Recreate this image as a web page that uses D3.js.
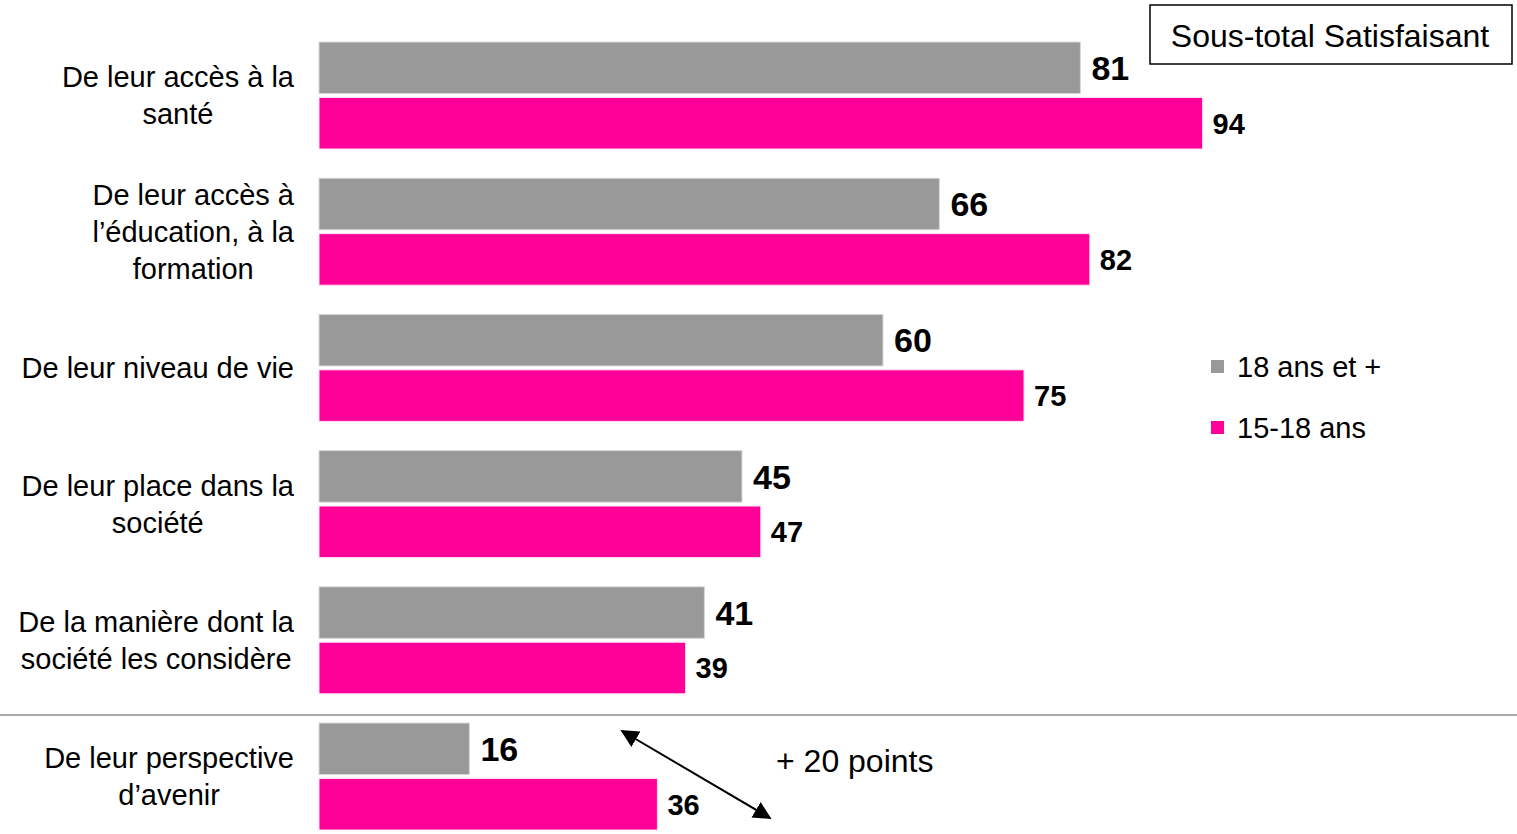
<!DOCTYPE html>
<html><head><meta charset="utf-8">
<script src="https://cdn.jsdelivr.net/npm/d3@7"></script>
<style>body{margin:0;background:#fff;} svg{display:block;font-family:"Liberation Sans",Arial,sans-serif;}</style>
</head><body>
<svg id="c" width="1517" height="834"></svg>
<script>
const categories = [
  ["De leur accès à la","santé"],
  ["De leur accès à","l’éducation, à la","formation"],
  ["De leur niveau de vie"],
  ["De leur place dans la","société"],
  ["De la manière dont la","société les considère"],
  ["De leur perspective","d’avenir"]
];
const adults = [81, 66, 60, 45, 41, 16];
const youth = [94, 82, 75, 47, 39, 36];
const seriesNames = ["18 ans et +", "15-18 ans"];
const colors = ["#999999", "#FF0099"];

const svg = d3.select("#c");
const x = d3.scaleLinear().domain([0, 100]).range([319, 319 + 940]);
const y = d3.scaleBand().domain(d3.range(categories.length)).range([38, 38 + 136.2*6]).paddingInner(0).paddingOuter(0);
const sub = d3.scaleBand().domain([0,1]).range([4, 111]).paddingInner(0.07);

const g = svg.append("g");
const groups = g.selectAll("g.grp").data(categories).join("g").attr("transform",(d,i)=>`translate(0,${y(i)})`);

groups.append("rect").attr("x", x(0)).attr("y", sub(0)).attr("height", sub.bandwidth())
  .attr("width",(d,i)=>x(adults[i])-x(0)).attr("fill", colors[0]).attr("stroke","#d9d9d9").attr("stroke-width",1);
groups.append("rect").attr("x", x(0)).attr("y", sub(1)).attr("height", sub.bandwidth())
  .attr("width",(d,i)=>x(youth[i])-x(0)).attr("fill", colors[1]).attr("stroke","#ffe0f0").attr("stroke-width",1);

groups.append("text").attr("x",(d,i)=>x(adults[i])+11).attr("y", sub(0)+sub.bandwidth()/2)
  .attr("dy","0.36em").attr("font-size",34).attr("font-weight","bold").text((d,i)=>adults[i]);
groups.append("text").attr("x",(d,i)=>x(youth[i])+10).attr("y", sub(1)+sub.bandwidth()/2)
  .attr("dy","0.36em").attr("font-size",29).attr("font-weight","bold").text((d,i)=>youth[i]);

// category labels
groups.each(function(lines,i){
  const gg = d3.select(this);
  const cy = sub(0) + (sub(1)+sub.bandwidth()-sub(0))/2;
  const lh = 37;
  const t = gg.append("text").attr("font-size",29).attr("text-anchor","middle").attr("fill","#000");
  lines.forEach((l,k)=>{
    t.append("tspan").attr("x",0).attr("y", cy + (k-(lines.length-1)/2)*lh).attr("dy","0.35em").text(l);
  });
  let maxW = 0;
  t.selectAll("tspan").each(function(){maxW = Math.max(maxW, this.getComputedTextLength());});
  t.selectAll("tspan").attr("x", 294 - maxW/2);
});

// separator
svg.append("line").attr("x1",0).attr("x2",1517).attr("y1",715).attr("y2",715).attr("stroke","#aaaaaa").attr("stroke-width",2);

// legend
const leg = svg.append("g");
seriesNames.forEach((n,i)=>{
  leg.append("rect").attr("x",1211).attr("y",360+i*61).attr("width",13).attr("height",13).attr("fill",colors[i]);
  leg.append("text").attr("x",1237).attr("y",366.5+i*61).attr("dy","0.35em").attr("font-size",29).text(n);
});

// box
svg.append("rect").attr("x",1150).attr("y",5).attr("width",362).attr("height",59).attr("fill","none").attr("stroke","#000").attr("stroke-width",1.5);
svg.append("text").attr("x",1330).attr("y",36).attr("dy","0.35em").attr("text-anchor","middle").attr("font-size",32).text("Sous-total Satisfaisant");

// arrow
const defs = svg.append("defs");
defs.append("marker").attr("id","ah").attr("viewBox","0 0 10 10").attr("refX",9).attr("refY",5)
  .attr("markerWidth",18).attr("markerHeight",18).attr("orient","auto-start-reverse").attr("markerUnits","userSpaceOnUse")
  .append("path").attr("d","M0,0L10,5L0,10z").attr("fill","#000");
svg.append("line").attr("x1",622).attr("y1",731).attr("x2",770).attr("y2",818).attr("stroke","#000").attr("stroke-width",2)
  .attr("marker-start","url(#ah)").attr("marker-end","url(#ah)");
svg.append("text").attr("x",776).attr("y",761).attr("dy","0.35em").attr("font-size",32).text("+ 20 points");
</script>
</body></html>
